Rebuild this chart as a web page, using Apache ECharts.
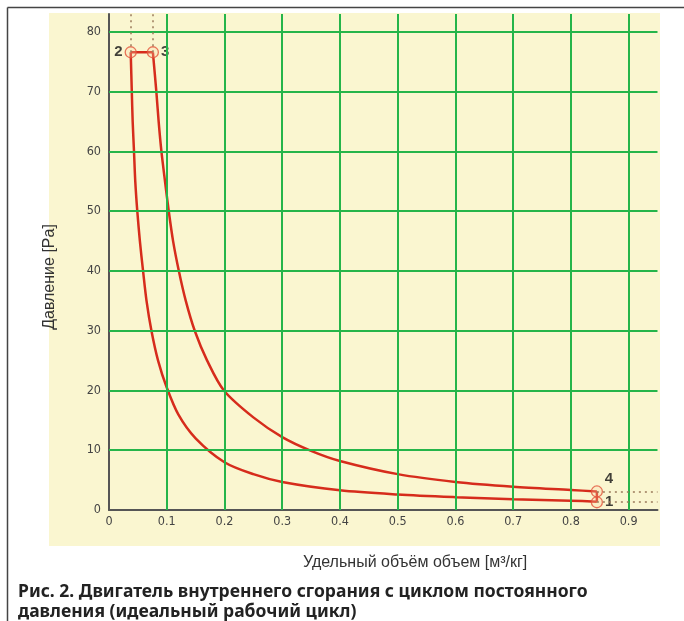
<!DOCTYPE html>
<html>
<head>
<meta charset="utf-8">
<script src="https://cdn.jsdelivr.net/npm/echarts@6/dist/echarts.min.js"></script>
<style>html,body{margin:0;padding:0;background:#fff}#c{width:684px;height:621px}</style>
</head>
<body>
<div id="c"></div>
<script>
// Axis ticks
const xTicks = [0.1, 0.2, 0.3, 0.4, 0.5, 0.6, 0.7, 0.8, 0.9];
const yTicks = [10, 20, 30, 40, 50, 60, 70, 80];
const xMax = 0.95;
const yMax = 83;

// Cycle state points [v, p]
const pointNames = ['1', '2', '3', '4'];
const pointValues = [[0.845, 1.3], [0.0376, 76.6], [0.076, 76.6], [0.845, 3.1]];

// Compression curve 1 -> 2
const compression = [
  [0.845, 1.4], [0.8, 1.55], [0.7, 1.8], [0.6, 2.15], [0.5, 2.6], [0.4, 3.3],
  [0.3, 4.7], [0.25, 6.0], [0.2, 8.0], [0.15, 12.0], [0.12, 16.0], [0.1, 20.5],
  [0.085, 25.0], [0.0735, 30], [0.065, 35], [0.059, 40], [0.0535, 45], [0.049, 50],
  [0.0455, 55], [0.0433, 60], [0.041, 65], [0.0395, 70], [0.0376, 76.6]
];
// Constant pressure 2 -> 3
const isobar = [[0.0376, 76.6], [0.076, 76.6]];
// Expansion curve 3 -> 4
const expansion = [
  [0.076, 76.6], [0.082, 70], [0.086, 65], [0.0908, 60], [0.097, 55], [0.1035, 50],
  [0.111, 45], [0.121, 40], [0.133, 35], [0.1485, 30], [0.17, 25], [0.199, 20],
  [0.25, 15.5], [0.3, 12.2], [0.35, 9.9], [0.4, 8.2], [0.5, 6.0], [0.6, 4.7],
  [0.7, 3.9], [0.8, 3.35], [0.845, 3.1]
];
// Constant volume 4 -> 1
const isochor = [[0.845, 3.1], [0.845, 1.4]];

const red = '#d62c1c';
const green = '#25b54a';

const gridLines = [];
xTicks.forEach(x => gridLines.push([{coord: [x, 0]}, {coord: [x, yMax]}]));
yTicks.forEach(y => gridLines.push([{coord: [0, y]}, {coord: [xMax, y]}]));

const dotted = [
  [{coord: [pointValues[1][0], pointValues[1][1]]}, {coord: [pointValues[1][0], yMax]}],
  [{coord: [pointValues[2][0], pointValues[2][1]]}, {coord: [pointValues[2][0], yMax]}],
  [{coord: [pointValues[3][0], pointValues[3][1]]}, {coord: [xMax, pointValues[3][1]]}],
  [{coord: [pointValues[0][0], pointValues[0][1]]}, {coord: [xMax, pointValues[0][1]]}]
];

const labelPos = ['right', 'left', 'right', [14, -14]];

const chart = echarts.init(document.getElementById('c'), null, {renderer: 'canvas'});
const tickFont = {fontFamily: 'Liberation Sans Narrow, DejaVu Sans Condensed, Liberation Sans, sans-serif', fontSize: 12.5, color: '#444'};

chart.setOption({
  animation: false,
  backgroundColor: '#ffffff',
  grid: {left: 109, right: 26.5, top: 14, bottom: 111},
  graphic: [
    {type: 'rect', z: -10, silent: true, shape: {x: 49, y: 13, width: 611, height: 533}, style: {fill: '#faf6d0'}},
    {type: 'line', z: -5, shape: {x1: 7.5, y1: 7.5, x2: 684, y2: 7.5}, style: {stroke: '#444', lineWidth: 1.5}},
    {type: 'line', z: -5, shape: {x1: 7.5, y1: 7.5, x2: 7.5, y2: 621}, style: {stroke: '#444', lineWidth: 1.5}},
    {type: 'text', x: 50, y: 277, rotation: Math.PI / 2, style: {text: 'Давление [Pa]', font: '16px "Liberation Sans", Arial, sans-serif', fill: '#333', align: 'center', verticalAlign: 'middle'}},
    {type: 'text', x: 303, y: 563, style: {text: 'Удельный объём объем [м³/кг]', font: '16px "Liberation Sans", Arial, sans-serif', fill: '#333', align: 'left', verticalAlign: 'middle'}},
    {type: 'text', x: 18, y: 592, style: {text: 'Рис. 2. Двигатель внутреннего сгорания с циклом постоянного', font: 'bold 17.5px "Noto Sans", sans-serif', fill: '#222', align: 'left', verticalAlign: 'middle'}},
    {type: 'text', x: 18, y: 612, style: {text: 'давления (идеальный рабочий цикл)', font: 'bold 17.5px "Noto Sans", sans-serif', fill: '#222', align: 'left', verticalAlign: 'middle'}}
  ],
  xAxis: {
    type: 'value', min: 0, max: xMax, interval: 0.1,
    axisLine: {show: true, lineStyle: {color: '#555', width: 2}},
    axisTick: {show: false},
    splitLine: {show: false},
    axisLabel: Object.assign({margin: 5, showMaxLabel: false, formatter: v => (Math.abs(v * 10 - Math.round(v * 10)) < 1e-6 ? String(Math.round(v * 10) / 10) : '')}, tickFont)
  },
  yAxis: {
    type: 'value', min: 0, max: yMax, interval: 10,
    axisLine: {show: true, lineStyle: {color: '#555', width: 2}},
    axisTick: {show: false},
    splitLine: {show: false},
    axisLabel: Object.assign({margin: 8, showMaxLabel: false, formatter: v => (v % 10 === 0 ? String(v) : '')}, tickFont)
  },
  series: [
    {
      type: 'line', data: [], silent: true, z: 1,
      markLine: {silent: true, symbol: 'none', label: {show: false}, lineStyle: {color: green, width: 2, type: 'solid'}, data: gridLines}
    },
    {
      type: 'line', data: [], silent: true, z: 2,
      markLine: {silent: true, symbol: 'none', label: {show: false}, lineStyle: {color: '#9a7a5a', width: 1.5, type: [2, 4]}, data: dotted}
    },
    {type: 'line', data: compression, smooth: 0.3, showSymbol: false, lineStyle: {color: red, width: 2.5}, z: 3},
    {type: 'line', data: isobar, showSymbol: false, lineStyle: {color: red, width: 2.5}, z: 3},
    {type: 'line', data: expansion, smooth: 0.3, showSymbol: false, lineStyle: {color: red, width: 2.5}, z: 3},
    {type: 'line', data: isochor, showSymbol: false, lineStyle: {color: red, width: 2.5}, z: 3},
    {
      type: 'scatter', z: 4, symbol: 'circle', symbolSize: 11,
      itemStyle: {color: 'rgba(250,215,170,0.35)', borderColor: '#e2533a', borderWidth: 1.3},
      data: pointValues.map((p, i) => ({
        value: p,
        label: {show: true, formatter: pointNames[i], position: labelPos[i], distance: 2, color: '#111', fontSize: 15, fontWeight: 'bold', fontFamily: 'Liberation Sans, Arial, sans-serif'}
      }))
    }
  ]
});
</script>
</body>
</html>
